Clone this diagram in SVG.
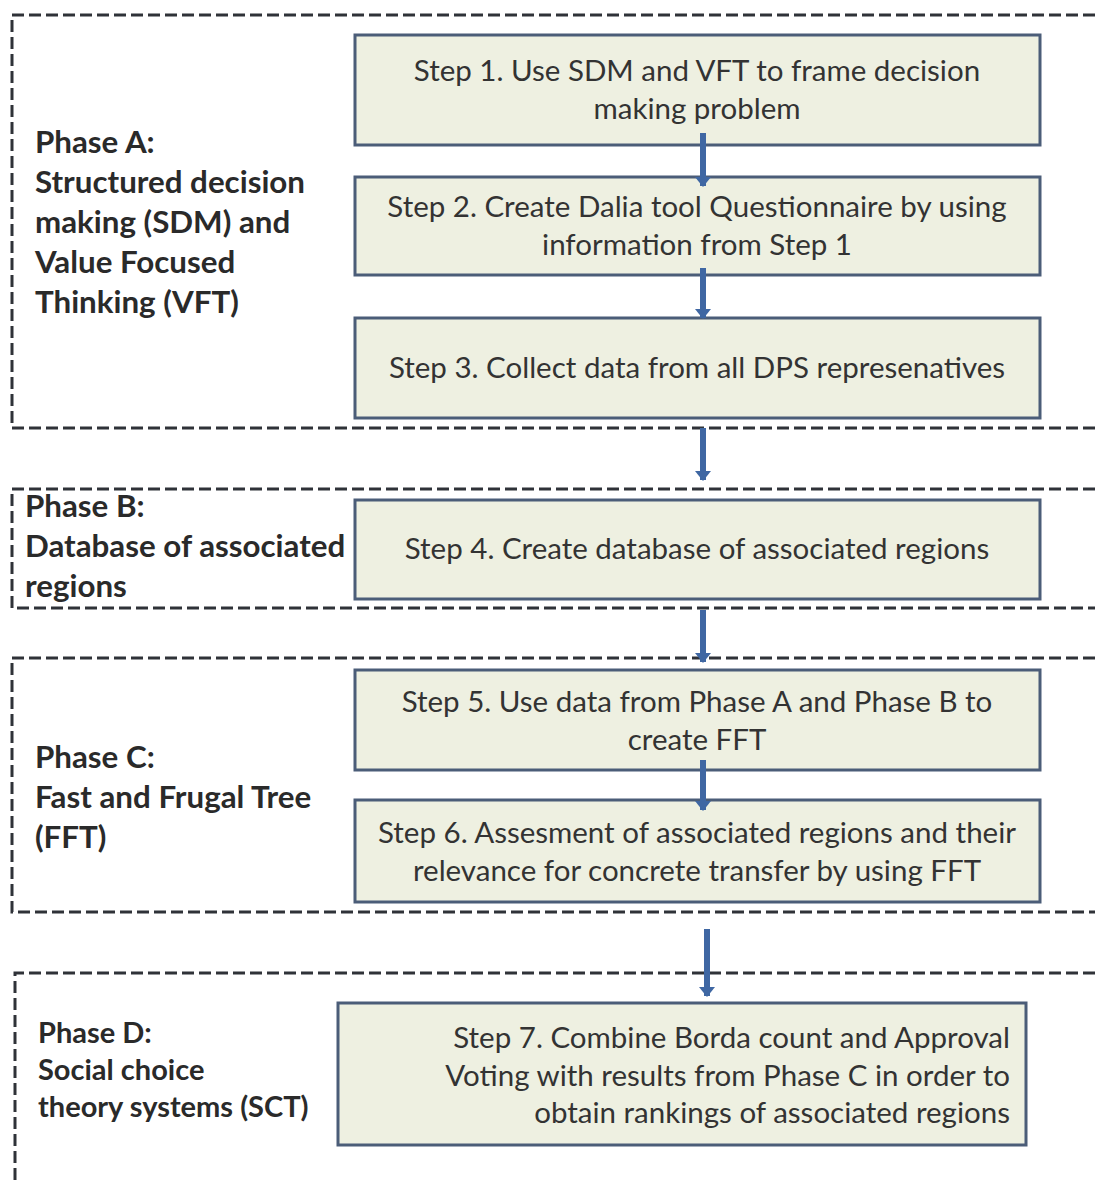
<svg xmlns="http://www.w3.org/2000/svg" width="1095" height="1183" viewBox="0 0 1095 1183">
<style>
.phase{fill:none;stroke:#2f3238;stroke-width:3;stroke-dasharray:12 5}
.box{fill:#eef0e1;stroke:#4b5d78;stroke-width:3}
.st{font-family:Lato,"Liberation Sans",sans-serif;font-size:29.5px;fill:#333;text-anchor:middle}
.lb{font-family:Lato,"Liberation Sans",sans-serif;font-size:31.3px;font-weight:bold;fill:#2a2a2a}
.lbd{font-family:Lato,"Liberation Sans",sans-serif;font-size:29px;font-weight:bold;fill:#2a2a2a}
.ar{stroke:#3f67a3;stroke-width:6;fill:none;marker-end:url(#ah)}
</style>
<defs>
<marker id="ah" markerUnits="userSpaceOnUse" markerWidth="10" markerHeight="16" refX="9" refY="8" orient="auto" viewBox="0 0 10 16">
<path d="M0 0 L10 8 L0 16 Z" fill="#3f67a3"/>
</marker>
</defs>
<rect width="1095" height="1183" fill="#fff"/>
<g id="phaseA">
<path class="phase" d="M1095 15 H12 V428 H1095"/>
<text class="lb" x="35" y="153">Phase A:</text>
<text class="lb" x="35" y="193">Structured decision</text>
<text class="lb" x="35" y="233">making (SDM) and</text>
<text class="lb" x="35" y="273">Value Focused</text>
<text class="lb" x="35" y="313">Thinking (VFT)</text>
</g>
<g id="phaseB">
<path class="phase" d="M1095 489 H12 V608 H1095"/>
<text class="lb" x="25" y="517">Phase B:</text>
<text class="lb" x="25" y="557">Database of associated</text>
<text class="lb" x="25" y="597">regions</text>
</g>
<g id="phaseC">
<path class="phase" d="M1095 658 H12 V912 H1095"/>
<text class="lb" x="35" y="768">Phase C:</text>
<text class="lb" x="35" y="808">Fast and Frugal Tree</text>
<text class="lb" x="35" y="848">(FFT)</text>
</g>
<g id="phaseD">
<path class="phase" d="M1095 973 H15 V1183"/>
<text class="lbd" x="38" y="1043">Phase D:</text>
<text class="lbd" x="38" y="1080">Social choice</text>
<text class="lbd" x="38" y="1117">theory systems (SCT)</text>
</g>
<g id="step1">
<rect class="box" x="355" y="35" width="685" height="110"/>
<text class="st" x="697" y="81">Step 1. Use SDM and VFT to frame decision</text>
<text class="st" x="697" y="119">making problem</text>
</g>
<g id="step2">
<rect class="box" x="355" y="177" width="685" height="98"/>
<text class="st" x="697" y="217">Step 2. Create Dalia tool Questionnaire by using</text>
<text class="st" x="697" y="255">information from Step 1</text>
</g>
<g id="step3">
<rect class="box" x="355" y="318" width="685" height="100"/>
<text class="st" x="697" y="378">Step 3. Collect data from all DPS represenatives</text>
</g>
<g id="step4">
<rect class="box" x="355" y="500" width="685" height="99"/>
<text class="st" x="697" y="559">Step 4. Create database of associated regions</text>
</g>
<g id="step5">
<rect class="box" x="355" y="670" width="685" height="100"/>
<text class="st" x="697" y="712">Step 5. Use data from Phase A and Phase B to</text>
<text class="st" x="697" y="750">create FFT</text>
</g>
<g id="step6">
<rect class="box" x="355" y="800" width="685" height="102"/>
<text class="st" x="697" y="843">Step 6. Assesment of associated regions and their</text>
<text class="st" x="697" y="881">relevance for concrete transfer by using FFT</text>
</g>
<g id="step7">
<rect class="box" x="338" y="1003" width="688" height="142"/>
<text class="st" x="1010" y="1048" style="text-anchor:end">Step 7. Combine Borda count and Approval</text>
<text class="st" x="1010" y="1086" style="text-anchor:end">Voting with results from Phase C in order to</text>
<text class="st" x="1010" y="1123" style="text-anchor:end">obtain rankings of associated regions</text>
</g>
<g id="connectors">
<line class="ar" x1="703" y1="133" x2="703" y2="186"/>
<line class="ar" x1="703" y1="268" x2="703" y2="318"/>
<line class="ar" x1="703" y1="428" x2="703" y2="480"/>
<line class="ar" x1="703" y1="610" x2="703" y2="662"/>
<line class="ar" x1="703" y1="760" x2="703" y2="810"/>
<line class="ar" x1="707" y1="929" x2="707" y2="996"/>
</g>
</svg>
